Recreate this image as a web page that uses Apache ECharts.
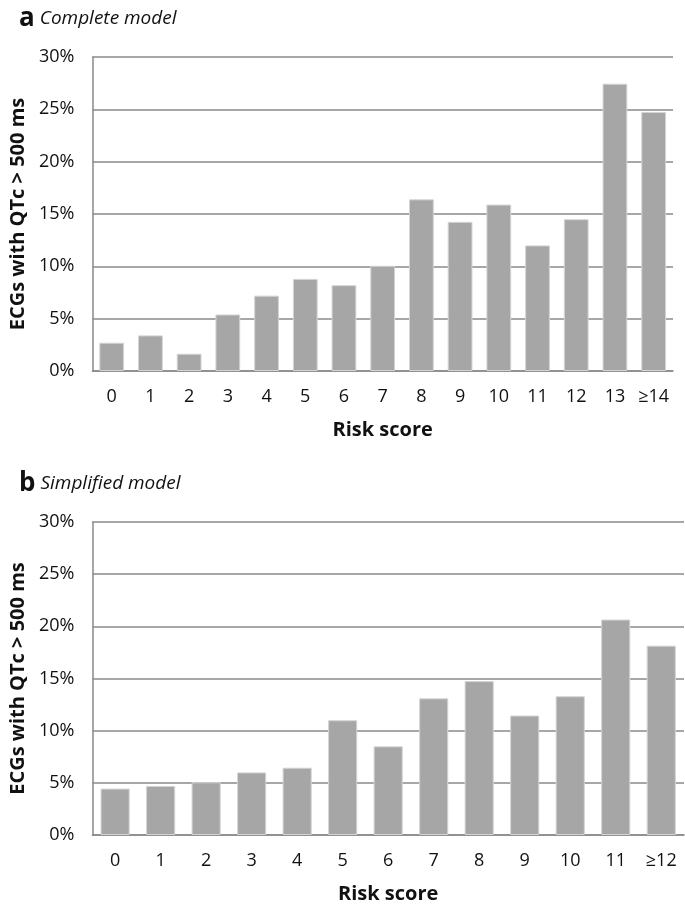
<!DOCTYPE html>
<html>
<head>
<meta charset="utf-8">
<script src="https://cdn.jsdelivr.net/npm/echarts@6/dist/echarts.min.js"></script>
<style>
html,body{margin:0;padding:0;background:#fff;}
#chart{width:685px;height:909px;}
</style>
</head>
<body>
<div id="chart"></div>
<script>
// Panel a: complete model
const categoriesA = ['0','1','2','3','4','5','6','7','8','9','10','11','12','13','≥14'];
const valuesA = [2.7, 3.4, 1.65, 5.4, 7.2, 8.8, 8.2, 10.05, 16.4, 14.25, 15.9, 12.0, 14.5, 27.45, 24.75];
// Panel b: simplified model
const categoriesB = ['0','1','2','3','4','5','6','7','8','9','10','11','≥12'];
const valuesB = [4.45, 4.7, 5.05, 6.0, 6.45, 11.0, 8.5, 13.1, 14.75, 11.45, 13.3, 20.65, 18.15];
// Axis ticks
const yMin = 0, yMax = 30, yStep = 5;
const titleA = {letter: 'a', text: 'Complete model'};
const titleB = {letter: 'b', text: 'Simplified model'};
const yAxisTitle = 'ECGs with QTc > 500 ms';
const xAxisTitle = 'Risk score';

const FONT = '"Open Sans", "Noto Sans", sans-serif';
const gridColor = '#8a8a8a';
const barColor = '#a6a6a6';

function yAxisDef(gi){
  return {
    type:'value', gridIndex: gi, min: yMin, max: yMax, interval: yStep,
    name: yAxisTitle, nameLocation:'middle', nameGap: 58,
    nameTextStyle:{fontFamily: FONT, fontWeight:'bold', fontSize:20, color:'#111'},
    axisLine:{show:true, lineStyle:{color:gridColor, width:1.5}},
    axisTick:{show:false},
    axisLabel:{formatter: v => v + '%', fontFamily: FONT, fontSize:18, color:'#111', margin:18},
    splitLine:{show:true, lineStyle:{color:gridColor, width:1.5}}
  };
}
function xAxisDef(gi, cats){
  return {
    type:'category', gridIndex: gi, data: cats,
    name: xAxisTitle, nameLocation:'middle', nameGap: 49,
    nameTextStyle:{fontFamily: FONT, fontWeight:'bold', fontSize:20, color:'#111'},
    axisLine:{show:true, lineStyle:{color:gridColor, width:1.5}},
    axisTick:{show:false},
    axisLabel:{fontFamily: FONT, fontSize:18, color:'#111', margin:17, interval:0}
  };
}
function seriesDef(i, vals){
  return {
    type:'bar', xAxisIndex:i, yAxisIndex:i, data: vals,
    barCategoryGap:'36%',
    itemStyle:{color: barColor, borderColor:'#d4d4d4', borderWidth:1},
    silent:true
  };
}
function titleDef(t, top){
  return {
    text: '{l|' + t.letter + '} {t|' + t.text + '}',
    left: 14, top: top,
    textStyle:{
      fontWeight:'normal',
      rich:{
        l:{fontFamily: FONT, fontWeight:'bold', fontSize:26, color:'#111'},
        t:{fontFamily: FONT, fontStyle:'italic', fontWeight:'normal', fontSize:19, color:'#111'}
      }
    }
  };
}

const chart = echarts.init(document.getElementById('chart'), null, {renderer:'canvas'});
chart.setOption({
  animation:false,
  backgroundColor:'#fff',
  title:[titleDef(titleA, 1), titleDef(titleB, 466)],
  grid:[
    {left:86, top:57, width:587, height:314},
    {left:86, top:522, width:598, height:313}
  ],
  xAxis:[xAxisDef(0, categoriesA), xAxisDef(1, categoriesB)],
  yAxis:[yAxisDef(0), yAxisDef(1)],
  series:[seriesDef(0, valuesA), seriesDef(1, valuesB)]
});
</script>
</body>
</html>
